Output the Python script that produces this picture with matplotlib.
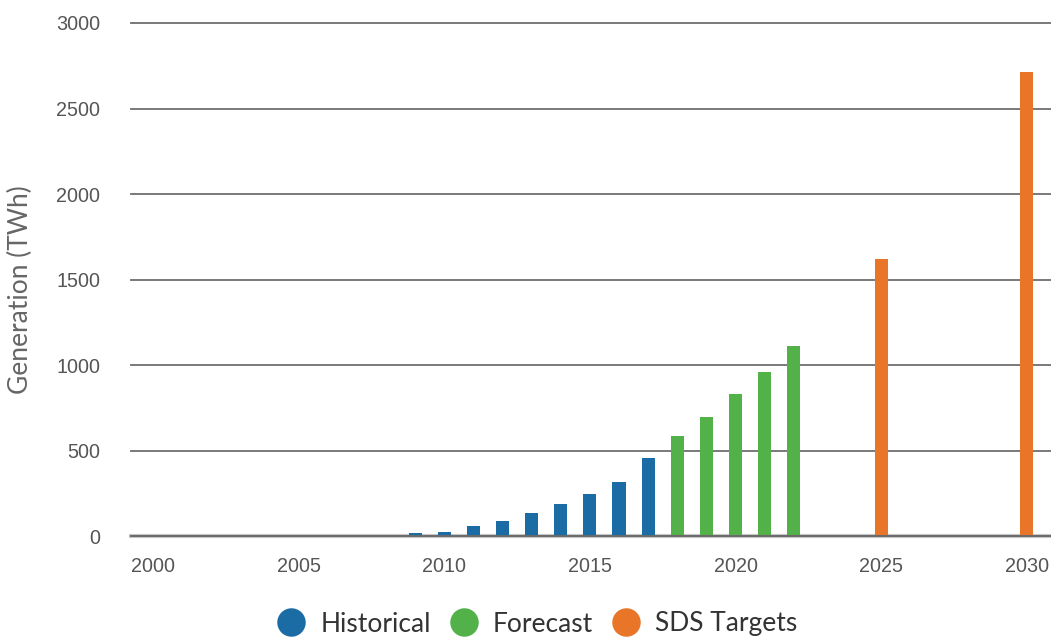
import matplotlib
matplotlib.use("Agg")
import matplotlib.pyplot as plt
from matplotlib.lines import Line2D

hist_years = [2009, 2010, 2011, 2012, 2013, 2014, 2015, 2016, 2017]
hist_vals = [20, 25, 60, 90, 135, 190, 245, 320, 455]
fc_years = [2018, 2019, 2020, 2021, 2022]
fc_vals = [585, 700, 830, 960, 1110]
sds_years = [2025, 2030]
sds_vals = [1620, 2715]
xticks = [2000, 2005, 2010, 2015, 2020, 2025, 2030]
yticks = [0, 500, 1000, 1500, 2000, 2500, 3000]

c_hist = "#1b6ca5"
c_fc = "#53b14a"
c_sds = "#e87528"

fig = plt.figure(figsize=(10.51, 6.4), dpi=100)
ax = fig.add_axes([131/1051, 1-536.3/640, 1-131/1051, (536.3-23)/640])

w = 0.45
ax.bar(hist_years, hist_vals, width=w, color=c_hist, zorder=4.5)
ax.bar(fc_years, fc_vals, width=w, color=c_fc, zorder=4.5)
ax.bar(sds_years, sds_vals, width=w, color=c_sds, zorder=4.5)

ax.set_xlim(1999.245, 2030.83)
ax.set_ylim(0, 3000)
ax.set_xticks(xticks)
ax.set_yticks(yticks)
for y in yticks[1:]:
    ax.axhline(y, color="#6e6e6e", lw=1.3, zorder=1, clip_on=False)
ax.axhline(0, color="#c8c8c8", lw=3.0, zorder=4, clip_on=False)
ax.axhline(0, color="#6a6a6a", lw=1.4, zorder=5, clip_on=False)

for s in ax.spines.values():
    s.set_visible(False)
ax.tick_params(axis="both", length=0, colors="#555555", labelsize=14.2)
ax.tick_params(axis="x", pad=15)
ax.tick_params(axis="y", pad=22)
for lab in ax.get_xticklabels() + ax.get_yticklabels():
    lab.set_family("Liberation Sans")

fig.text(20/1051, 1-290/640, "Generation (TWh)", rotation=90, ha="center", va="center",
         fontsize=19, color="#666666", family="Lato")

handles = [Line2D([], [], marker="o", ls="none", markersize=20.5, color=c, markeredgewidth=0)
           for c in (c_hist, c_fc, c_sds)]
leg = fig.legend(handles, ["Historical", "Forecast", "SDS Targets"], loc="center",
                 bbox_to_anchor=(537/1051, 1-624/640), ncol=3, frameon=False,
                 handletextpad=0.55, columnspacing=0.7, handlelength=1.1,
                 prop={"family": "Lato", "size": 19})
for t in leg.get_texts():
    t.set_color("#333333")

fig.savefig("out.png", dpi=100)
